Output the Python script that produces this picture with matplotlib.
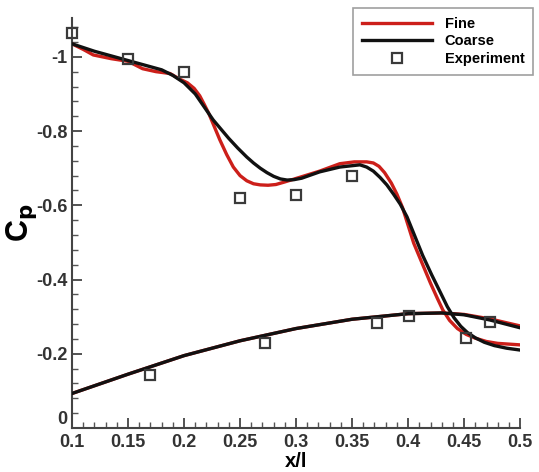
import matplotlib
matplotlib.use("Agg")
import matplotlib.pyplot as plt
from matplotlib.ticker import AutoMinorLocator, FixedLocator

plt.rcParams['font.family'] = ['Liberation Sans', 'DejaVu Sans']
plt.rcParams['font.weight'] = 'bold'

# upper surface, fine grid
fine_up_x = [0.1, 0.11, 0.119, 0.135, 0.15, 0.163, 0.175, 0.1875, 0.196, 0.203, 0.209, 0.214, 0.218,
             0.222, 0.227, 0.232, 0.238, 0.244, 0.25, 0.256, 0.262, 0.268, 0.275, 0.282, 0.29, 0.305,
             0.321, 0.339, 0.352, 0.363, 0.369, 0.374, 0.379, 0.385, 0.39, 0.395, 0.405, 0.42, 0.426,
             0.431, 0.437, 0.444, 0.452, 0.46, 0.47, 0.48, 0.5]
fine_up_y = [-1.035, -1.02, -1.005, -0.995, -0.988, -0.968, -0.96, -0.955, -0.94, -0.93, -0.915, -0.895, -0.872,
             -0.848, -0.812, -0.776, -0.737, -0.703, -0.68, -0.666, -0.658, -0.655, -0.654, -0.656, -0.663, -0.677,
             -0.692, -0.712, -0.717, -0.717, -0.714, -0.705, -0.688, -0.66, -0.63, -0.594, -0.498, -0.39, -0.35,
             -0.318, -0.29, -0.268, -0.252, -0.242, -0.233, -0.228, -0.224]

# upper surface, coarse grid
coarse_up_x = [0.1, 0.12, 0.15, 0.18, 0.19, 0.2, 0.21, 0.218, 0.226, 0.233, 0.24, 0.248, 0.256, 0.262,
               0.268, 0.274, 0.28, 0.286, 0.292, 0.298, 0.305, 0.321, 0.339, 0.357, 0.363, 0.369, 0.375,
               0.381, 0.387, 0.393, 0.399, 0.406, 0.413, 0.421, 0.429, 0.435, 0.441, 0.447, 0.453, 0.46,
               0.468, 0.477, 0.488, 0.5]
coarse_up_y = [-1.035, -1.015, -0.99, -0.965, -0.95, -0.93, -0.9, -0.865, -0.83, -0.805, -0.78, -0.754, -0.73, -0.714,
               -0.70, -0.688, -0.678, -0.671, -0.668, -0.669, -0.673, -0.69, -0.703, -0.709, -0.703, -0.692, -0.675,
               -0.655, -0.63, -0.603, -0.569, -0.517, -0.465, -0.413, -0.364, -0.327, -0.297, -0.274, -0.257, -0.243,
               -0.231, -0.222, -0.215, -0.21]

# lower surface
fine_lo_x = [0.1, 0.15, 0.2, 0.25, 0.3, 0.35, 0.4, 0.43, 0.45, 0.473, 0.5]
fine_lo_y = [-0.093, -0.145, -0.195, -0.235, -0.268, -0.293, -0.308, -0.31, -0.306, -0.294, -0.275]
coarse_lo_x = [0.1, 0.15, 0.2, 0.25, 0.3, 0.35, 0.4, 0.43, 0.45, 0.473, 0.5]
coarse_lo_y = [-0.093, -0.145, -0.195, -0.235, -0.268, -0.293, -0.308, -0.31, -0.305, -0.291, -0.27]

# experiment
exp_x = [0.1, 0.15, 0.2, 0.25, 0.3, 0.35, 0.17, 0.272, 0.372, 0.401, 0.452, 0.473]
exp_y = [-1.065, -0.995, -0.958, -0.62, -0.628, -0.68, -0.143, -0.229, -0.283, -0.302, -0.243, -0.286]

x_ticks = [0.1, 0.15, 0.2, 0.25, 0.3, 0.35, 0.4, 0.45, 0.5]
x_labels = ["0.1", "0.15", "0.2", "0.25", "0.3", "0.35", "0.4", "0.45", "0.5"]
y_ticks = [-1.0, -0.8, -0.6, -0.4, -0.2, 0.0]
y_labels = ["-1", "-0.8", "-0.6", "-0.4", "-0.2", "0"]

fig = plt.figure(figsize=(5.39, 4.72), dpi=100)
ax = fig.add_axes([0.1336, 0.0932, 0.8314, 0.869])

red = '#cc1f1a'
ax.plot(fine_up_x, fine_up_y, color=red, lw=2.4, label='Fine', zorder=2)
ax.plot(fine_lo_x, fine_lo_y, color=red, lw=2.4, zorder=2)
ax.plot(coarse_up_x, coarse_up_y, color='#111111', lw=2.4, label='Coarse', zorder=3)
ax.plot(coarse_lo_x, coarse_lo_y, color='#111111', lw=2.4, zorder=3)
ax.plot(exp_x, exp_y, ls='none', marker='s', ms=7, mfc='none', mec='#3a3a3a', mew=1.6,
        label='Experiment', zorder=4, clip_on=False)

ax.set_xlim(0.1, 0.5)
ax.set_ylim(0, -1.105)

for s in ['top', 'right']:
    ax.spines[s].set_visible(False)
for s in ['left', 'bottom']:
    ax.spines[s].set_color('#444444')
    ax.spines[s].set_linewidth(1.5)

ax.xaxis.set_major_locator(FixedLocator(x_ticks))
ax.set_xticklabels(x_labels)
ax.yaxis.set_major_locator(FixedLocator(y_ticks))
ax.set_yticklabels(y_labels)
ax.xaxis.set_minor_locator(AutoMinorLocator(5))
ax.yaxis.set_minor_locator(AutoMinorLocator(5))
ax.tick_params(which='major', direction='in', length=7, width=1.3, color='#444444',
               labelsize=13, labelcolor='#333333', pad=3)
ax.tick_params(axis='x', which='major', pad=4)
ax.tick_params(which='minor', direction='in', length=4, width=1.0, color='#555555')
for t in ax.get_xticklabels() + ax.get_yticklabels():
    t.set_fontweight('bold')
# "0" sits just above the x labels
ax.get_yticklabels()[-1].set_verticalalignment('bottom')

ax.set_xlabel('x/l', fontsize=14.5, fontweight='bold', va='top')
ax.xaxis.set_label_coords(0.5, -0.058)
ax.set_ylabel(r'C$_\mathbf{p}$', fontsize=22, fontweight='bold', labelpad=-2)

leg = ax.legend(loc='upper right', bbox_to_anchor=(1.029, 1.024), borderaxespad=0,
                frameon=True, fancybox=False, edgecolor='#888888', handlelength=4.8,
                handletextpad=0.85, borderpad=0.6, labelspacing=0.25,
                prop={'weight': 'bold', 'size': 10.5})
leg.get_frame().set_linewidth(1.2)

plt.savefig("out.png", dpi=100)
